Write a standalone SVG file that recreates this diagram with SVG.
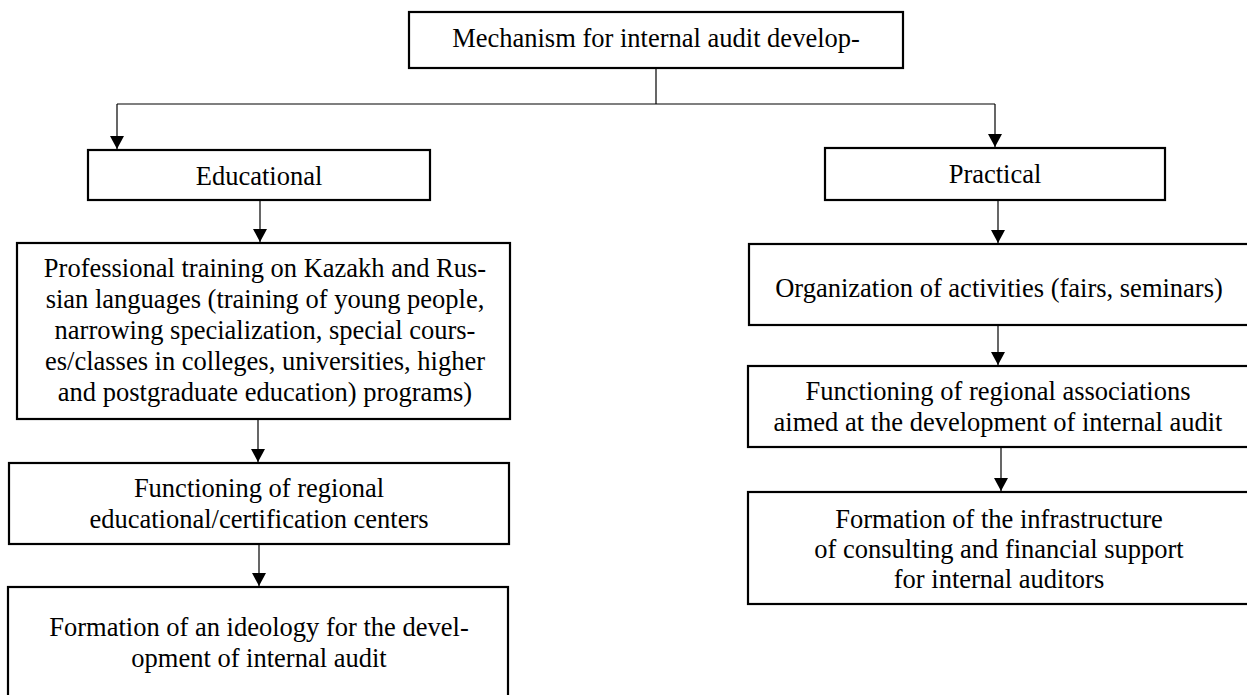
<svg xmlns="http://www.w3.org/2000/svg" width="1247" height="695" viewBox="0 0 1247 695">
<style>
.box{fill:#fff;stroke:#000;stroke-width:2.2}
.t{font-family:"Liberation Serif","Times New Roman",serif;font-size:26.5px;fill:#000;text-anchor:middle}
.c{fill:none;stroke:#000;stroke-width:1.2}
</style>
<defs>
<marker id="ah" markerUnits="userSpaceOnUse" markerWidth="14" markerHeight="14" refX="13" refY="7" orient="auto">
<path d="M0,0 L13,7 L0,14 Z" fill="#000"/>
</marker>
</defs>
<rect width="1247" height="695" fill="#fff"/>
<g id="connectors">
<line class="c" x1="656" y1="68" x2="656" y2="104"/>
<line class="c" x1="117" y1="104" x2="995" y2="104"/>
<line class="c" x1="117" y1="104" x2="117" y2="149" marker-end="url(#ah)"/>
<line class="c" x1="995" y1="104" x2="995" y2="147" marker-end="url(#ah)"/>
<line class="c" x1="260" y1="200" x2="260" y2="242" marker-end="url(#ah)"/>
<line class="c" x1="258" y1="419" x2="258" y2="462" marker-end="url(#ah)"/>
<line class="c" x1="259" y1="544" x2="259" y2="586" marker-end="url(#ah)"/>
<line class="c" x1="998" y1="200" x2="998" y2="243" marker-end="url(#ah)"/>
<line class="c" x1="998" y1="325" x2="998" y2="365" marker-end="url(#ah)"/>
<line class="c" x1="1001" y1="447" x2="1001" y2="491" marker-end="url(#ah)"/>
</g>
<g id="root">
<rect class="box" x="409" y="12" width="494" height="56"/>
<text class="t" x="656" y="47">Mechanism for internal audit develop-</text>
</g>
<g id="educational">
<rect class="box" x="88" y="150" width="342" height="50"/>
<text class="t" x="259" y="185">Educational</text>
</g>
<g id="practical">
<rect class="box" x="825" y="148" width="340" height="52"/>
<text class="t" x="995" y="183">Practical</text>
</g>
<g id="professional">
<rect class="box" x="17" y="243" width="493" height="176"/>
<text class="t" x="265" y="277">Professional training on Kazakh and Rus-</text>
<text class="t" x="265" y="308">sian languages (training of young people,</text>
<text class="t" x="265" y="339">narrowing specialization, special cours-</text>
<text class="t" x="265" y="370">es/classes in colleges, universities, higher</text>
<text class="t" x="265" y="401">and postgraduate education) programs)</text>
</g>
<g id="centers">
<rect class="box" x="9" y="463" width="500" height="81"/>
<text class="t" x="259" y="497">Functioning of regional</text>
<text class="t" x="259" y="528">educational/certification centers</text>
</g>
<g id="ideology">
<rect class="box" x="8" y="587" width="500" height="120"/>
<text class="t" x="259" y="636">Formation of an ideology for the devel-</text>
<text class="t" x="259" y="667">opment of internal audit</text>
</g>
<g id="activities">
<rect class="box" x="749" y="244" width="510" height="81"/>
<text class="t" x="999" y="297">Organization of activities (fairs, seminars)</text>
</g>
<g id="associations">
<rect class="box" x="748" y="366" width="510" height="81"/>
<text class="t" x="998" y="400">Functioning of regional associations</text>
<text class="t" x="998" y="431">aimed at the development of internal audit</text>
</g>
<g id="infrastructure">
<rect class="box" x="748" y="492" width="510" height="112"/>
<text class="t" x="999" y="528">Formation of the infrastructure</text>
<text class="t" x="999" y="558">of consulting and financial support</text>
<text class="t" x="999" y="588">for internal auditors</text>
</g>
</svg>
